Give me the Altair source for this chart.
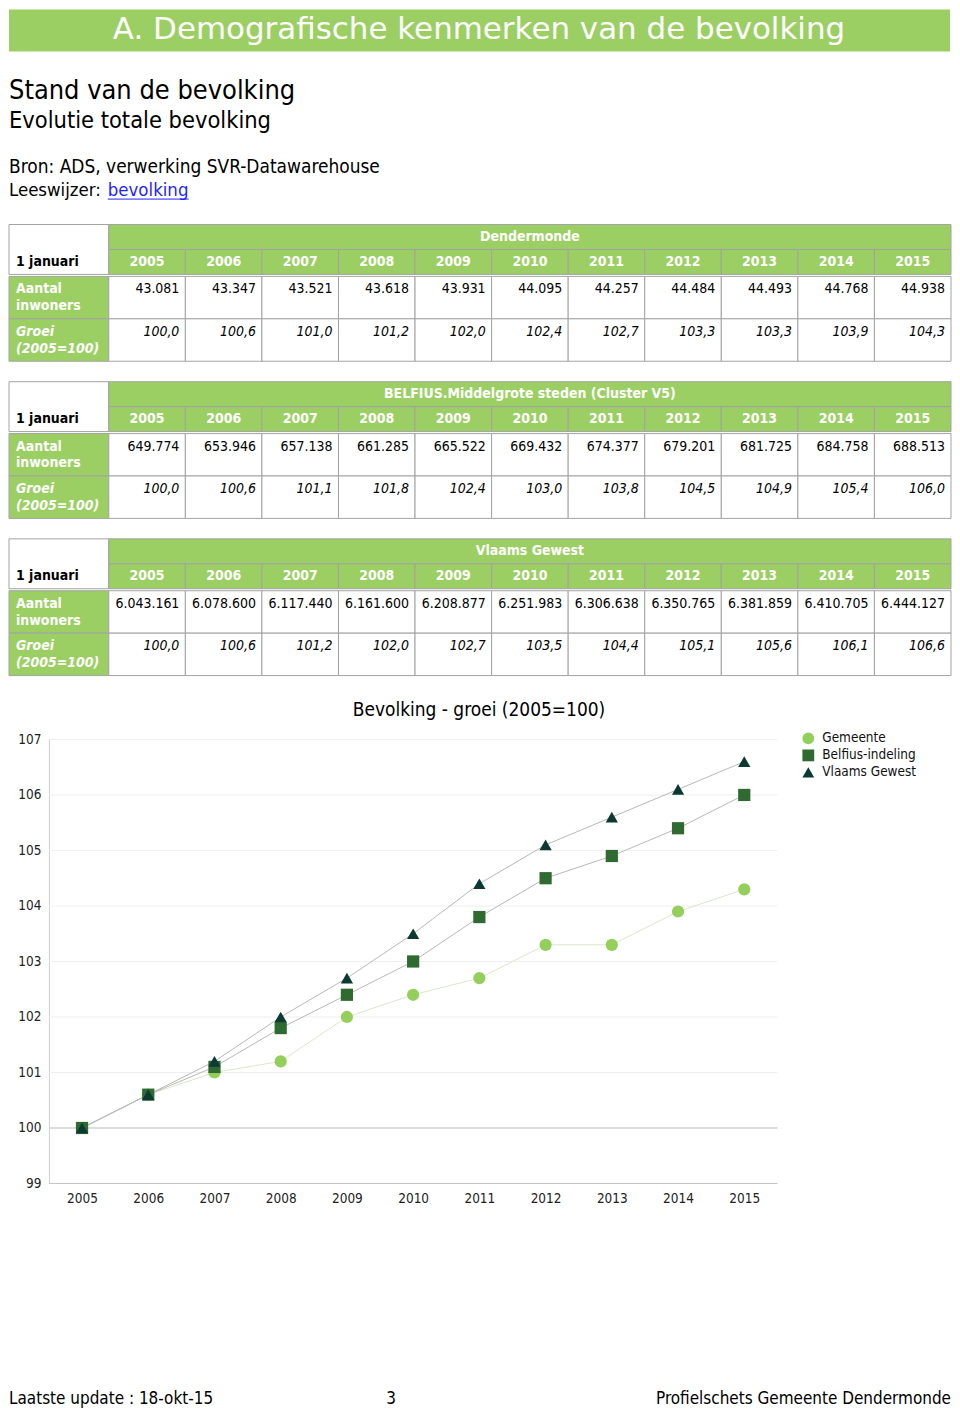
import altair as alt
import pandas as pd

# ---------------- data ----------------
years = [2005, 2006, 2007, 2008, 2009, 2010, 2011, 2012, 2013, 2014, 2015]

dendermonde_inwoners = [43081, 43347, 43521, 43618, 43931, 44095, 44257, 44484, 44493, 44768, 44938]
dendermonde_groei = [100.0, 100.6, 101.0, 101.2, 102.0, 102.4, 102.7, 103.3, 103.3, 103.9, 104.3]

belfius_inwoners = [649774, 653946, 657138, 661285, 665522, 669432, 674377, 679201, 681725, 684758, 688513]
belfius_groei = [100.0, 100.6, 101.1, 101.8, 102.4, 103.0, 103.8, 104.5, 104.9, 105.4, 106.0]

vlaams_inwoners = [6043161, 6078600, 6117440, 6161600, 6208877, 6251983, 6306638, 6350765, 6381859, 6410705, 6444127]
vlaams_groei = [100.0, 100.6, 101.2, 102.0, 102.7, 103.5, 104.4, 105.1, 105.6, 106.1, 106.6]

table_titles = ["Dendermonde", "BELFIUS.Middelgrote steden (Cluster V5)", "Vlaams Gewest"]
row_labels = ["Aantal\ninwoners", "Groei\n(2005=100)"]
series_names = ["Gemeente", "Belfius-indeling", "Vlaams Gewest"]
y_ticks = [99, 100, 101, 102, 103, 104, 105, 106, 107]

# ---------------- style ----------------
FONT = "DejaVu Sans Condensed"
GREEN = "#9bcf63"
BORDER = "#a3a3a3"
W = 944
LABW = 100
PX0, PX1 = 40, 770  # plot area inside the chart section

one = pd.DataFrame({"k": [0]})


def nl_int(v):
    return f"{v:,}".replace(",", ".")


def nl_dec(v):
    return f"{v:.1f}".replace(".", ",")


# ---------------- page header ----------------
def txt(text, x, y, size, color="black", align="left", font=FONT, weight="normal"):
    return alt.Chart(one).mark_text(
        text=text, font=font, fontSize=size, color=color, align=align,
        baseline="alphabetic", fontWeight=weight
    ).encode(x=alt.value(x), y=alt.value(y))


banner = alt.Chart(one).mark_rect(color=GREEN).encode(
    x=alt.value(0), x2=alt.value(943), y=alt.value(0), y2=alt.value(42)
)
header = alt.layer(
    banner,
    txt("A. Demografische kenmerken van de bevolking", 471, 30, 31, color="white",
        align="center", font="DejaVu Sans"),
    txt("Stand van de bevolking", 0, 90, 27),
    txt("Evolutie totale bevolking", 0, 119, 23.5),
    txt("Bron: ADS, verwerking SVR-Datawarehouse", 0, 164, 19),
    txt("Leeswijzer: ", 0, 187, 18.5),
    txt("bevolking", 99, 187, 18.5, color="#1f1fff"),
    alt.Chart(one).mark_rule(color="#1f1fff", strokeWidth=1).encode(
        x=alt.value(99), x2=alt.value(180), y=alt.value(190)
    ),
).properties(width=W, height=196)


# ---------------- tables ----------------
def table(title, inw, groei):
    yrs = [str(y) for y in years]
    xsc = alt.Scale(domain=yrs, range=[LABW, W], paddingInner=0, paddingOuter=0)

    # header part
    ysc_h = alt.Scale(domain=["titel", "jaar"], paddingInner=0, paddingOuter=0)
    hd = pd.DataFrame({"jaar": yrs, "rij": ["jaar"] * len(yrs)})
    td = pd.DataFrame({"rij": ["titel"], "t": [title]})
    jd = pd.DataFrame({"rij": ["jaar"], "t": ["1 januari"]})

    yh = alt.Y("rij:N", scale=ysc_h, axis=None)
    yh_mid = alt.Y("rij:N", scale=ysc_h, axis=None, bandPosition=0.5)

    corner = alt.Chart(one).mark_rect(fill="white", stroke=BORDER).encode(
        x=alt.value(0), x2=alt.value(LABW), y=alt.value(0), y2=alt.value(50)
    )
    tcell = alt.Chart(td).mark_rect(fill=GREEN, stroke=BORDER).encode(
        x=alt.value(LABW), x2=alt.value(W), y=yh
    )
    ttext = alt.Chart(td).mark_text(
        font=FONT, fontSize=14, fontWeight="bold", color="white", baseline="middle"
    ).encode(x=alt.value((LABW + W) / 2), y=yh_mid, text="t:N")
    ycell = alt.Chart(hd).mark_rect(fill=GREEN, stroke=BORDER).encode(
        x=alt.X("jaar:N", scale=xsc, axis=None), y=yh
    )
    ytext = alt.Chart(hd).mark_text(
        font=FONT, fontSize=14, fontWeight="bold", color="white", baseline="middle"
    ).encode(
        x=alt.X("jaar:N", scale=xsc, axis=None, bandPosition=0.5), y=yh_mid, text="jaar:N"
    )
    jtext = alt.Chart(jd).mark_text(
        font=FONT, fontSize=14, fontWeight="bold", color="black", align="left", baseline="middle"
    ).encode(x=alt.value(7), y=yh_mid, text="t:N")
    head = alt.layer(corner, tcell, ttext, ycell, ytext, jtext).properties(width=W, height=50)

    # body part
    ysc_b = alt.Scale(domain=["inw", "groei"], paddingInner=0, paddingOuter=0)
    yb = alt.Y("rij:N", scale=ysc_b, axis=None)
    yb_top = alt.Y("rij:N", scale=ysc_b, axis=None, bandPosition=0)
    bd = pd.DataFrame(
        {"jaar": yrs * 2,
         "rij": ["inw"] * len(yrs) + ["groei"] * len(yrs),
         "v": [nl_int(v) for v in inw] + [nl_dec(v) for v in groei]}
    )
    ld = pd.DataFrame({"rij": ["inw", "groei"], "t": row_labels})

    lcell = alt.Chart(ld).mark_rect(fill=GREEN, stroke=BORDER).encode(
        x=alt.value(0), x2=alt.value(LABW), y=yb
    )
    ltext_inw = alt.Chart(ld).transform_filter(alt.datum.rij == "inw").mark_text(
        font=FONT, fontSize=14, fontWeight="bold", color="white", align="left",
        baseline="top", lineBreak="\n", lineHeight=17, dy=6
    ).encode(x=alt.value(7), y=yb_top, text="t:N")
    ltext_gr = alt.Chart(ld).transform_filter(alt.datum.rij == "groei").mark_text(
        font=FONT, fontSize=14, fontWeight="bold", fontStyle="italic", color="white",
        align="left", baseline="top", lineBreak="\n", lineHeight=17, dy=6
    ).encode(x=alt.value(7), y=yb_top, text="t:N")
    dcell = alt.Chart(bd).mark_rect(fill="white", stroke=BORDER).encode(
        x=alt.X("jaar:N", scale=xsc, axis=None), y=yb
    )
    xr = alt.X("jaar:N", scale=xsc, axis=None, bandPosition=1)
    vtext_inw = alt.Chart(bd).transform_filter(alt.datum.rij == "inw").mark_text(
        font=FONT, fontSize=14, color="black", align="right", baseline="top", dx=-6, dy=6
    ).encode(x=xr, y=yb_top, text="v:N")
    vtext_gr = alt.Chart(bd).transform_filter(alt.datum.rij == "groei").mark_text(
        font=FONT, fontSize=14, fontStyle="italic", color="black", align="right",
        baseline="top", dx=-6, dy=6
    ).encode(x=xr, y=yb_top, text="v:N")
    body = alt.layer(lcell, dcell, ltext_inw, ltext_gr, vtext_inw, vtext_gr).properties(
        width=W, height=85
    )
    return alt.vconcat(head, body, spacing=0)


t1 = table(table_titles[0], dendermonde_inwoners, dendermonde_groei)
t2 = table(table_titles[1], belfius_inwoners, belfius_groei)
t3 = table(table_titles[2], vlaams_inwoners, vlaams_groei)

# ---------------- line chart ----------------
rows = []
for name, vals in zip(series_names, [dendermonde_groei, belfius_groei, vlaams_groei]):
    for y, v in zip(years, vals):
        rows.append({"jaar": str(y), "reeks": name, "waarde": v})
cdf = pd.DataFrame(rows)

ysc = alt.Scale(domain=[99, 107], nice=False, zero=False)
xenc = alt.X(
    "jaar:O",
    scale=alt.Scale(type="point", padding=0.5, range=[PX0, PX1]),
    axis=alt.Axis(title=None, labelAngle=0, ticks=False, labelPadding=8, domain=False,
                  labelFont=FONT, labelFontSize=13.5, labelColor="#222", grid=False),
)
yenc = alt.Y(
    "waarde:Q",
    scale=ysc,
    axis=alt.Axis(title=None, values=y_ticks, format="d", ticks=False, grid=False,
                  labelPadding=8, domainColor="#cfcfcf", labelFont=FONT,
                  labelFontSize=13.5, labelColor="#222", offset=-PX0),
)

grid = alt.Chart(pd.DataFrame({"g": y_ticks})).mark_rule(color="#efefef", strokeWidth=1).encode(
    y=alt.Y("g:Q", scale=ysc), x=alt.value(PX0), x2=alt.value(PX1)
)
base_rules = alt.Chart(pd.DataFrame({"g": [99, 100]})).mark_rule(
    color="#c4c4c4", strokeWidth=1
).encode(y=alt.Y("g:Q", scale=ysc), x=alt.value(PX0), x2=alt.value(PX1))

line_gem = alt.Chart(cdf).transform_filter(alt.datum.reeks == series_names[0]).mark_line(
    strokeWidth=1, color="#dce6cc"
).encode(x=xenc, y=yenc, detail="reeks:N")
line_rest = alt.Chart(cdf).transform_filter(alt.datum.reeks != series_names[0]).mark_line(
    strokeWidth=1, color="#b8b8b8"
).encode(x=xenc, y=yenc, detail="reeks:N")

leg = alt.Legend(title=None, orient="none", legendX=794, legendY=-8, padding=0,
                 labelFont=FONT, labelFontSize=13.5, labelColor="#111", symbolSize=140,
                 rowPadding=3, labelOffset=7)
points = alt.Chart(cdf).mark_point(filled=True, opacity=1, size=150).encode(
    x=xenc, y=yenc,
    color=alt.Color("reeks:N", scale=alt.Scale(domain=series_names,
                                               range=["#95cf5b", "#2f6b31", "#0c3a33"]),
                    legend=leg),
    shape=alt.Shape("reeks:N", scale=alt.Scale(domain=series_names,
                                               range=["circle", "square", "triangle-up"]),
                    legend=leg),
)

chart_sec = alt.layer(grid, base_rules, line_gem, line_rest, points).properties(
    width=PX1, height=445,
    title=alt.TitleParams("Bevolking - groei (2005=100)", font=FONT, fontSize=19,
                          fontWeight="normal", color="black", anchor="middle",
                          frame="group", dx=86, offset=11),
)

# ---------------- footer ----------------
footer = alt.layer(
    txt("Laatste update : 18-okt-15", 0, 180, 17),
    txt("3", 378, 180, 17),
    txt("Profielschets Gemeente  Dendermonde", W, 180, 17, align="right"),
).properties(width=W, height=184)

lower = alt.vconcat(t3, chart_sec, spacing=25).resolve_scale(
    color="independent", shape="independent"
).resolve_legend(color="independent", shape="independent")

chart = alt.vconcat(header, t1, t2, lower, footer, spacing=18.5).resolve_scale(
    color="independent", shape="independent"
).resolve_legend(color="independent", shape="independent").properties(
    padding={"left": 0, "top": 0, "right": 0, "bottom": 0}
).configure_view(strokeWidth=0)

chart.save("out.html", embed_options={"renderer": "svg", "actions": False})
